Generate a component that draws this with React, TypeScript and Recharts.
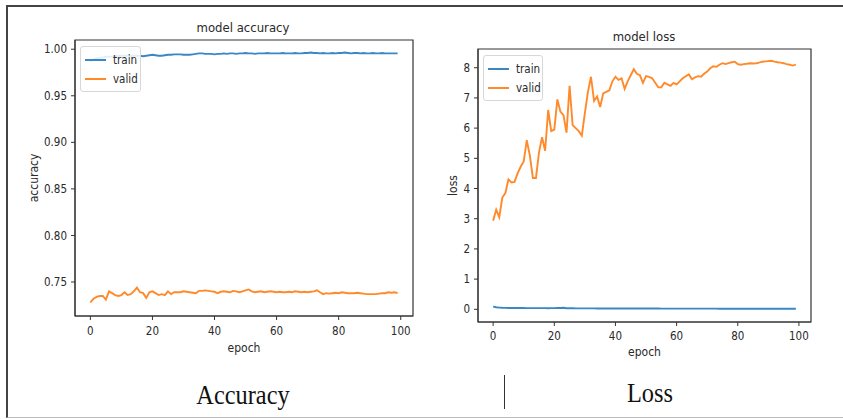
import React from 'react';
import {
  LineChart,
  Line,
  XAxis,
  YAxis,
  Legend,
  ReferenceArea
} from 'recharts';

// epochs 0..99
const epochs = Array.from({ length: 100 }, (_, i) => i);

const accTrain = [
  0.987, 0.989, 0.990, 0.991, 0.991, 0.992, 0.992, 0.992, 0.9925, 0.993,
  0.993, 0.993, 0.993, 0.9925, 0.993, 0.993, 0.993, 0.9925, 0.993, 0.9935,
  0.994, 0.9935, 0.993, 0.993, 0.9935, 0.994, 0.994, 0.9945, 0.9945, 0.9945,
  0.994, 0.994, 0.994, 0.9945, 0.995, 0.9955, 0.9955, 0.995, 0.995, 0.995,
  0.9945, 0.995, 0.995, 0.9955, 0.995, 0.9955, 0.9955, 0.995, 0.9955, 0.9955,
  0.996, 0.9955, 0.9955, 0.995, 0.9955, 0.9955, 0.9955, 0.996, 0.9955, 0.9955,
  0.9955, 0.9955, 0.996, 0.9955, 0.9955, 0.9955, 0.996, 0.9955, 0.9955, 0.996,
  0.996, 0.9965, 0.996, 0.996, 0.9955, 0.996, 0.9955, 0.9955, 0.996, 0.9955,
  0.996, 0.996, 0.9965, 0.996, 0.9955, 0.996, 0.996, 0.9955, 0.996, 0.9955,
  0.9955, 0.996, 0.9955, 0.9955, 0.996, 0.9955, 0.9955, 0.9955, 0.9955, 0.9955
];

const accValid = [
  0.728, 0.732, 0.734, 0.735, 0.735, 0.731, 0.740, 0.738, 0.736, 0.735,
  0.736, 0.739, 0.736, 0.737, 0.740, 0.744, 0.739, 0.738, 0.733, 0.739,
  0.740, 0.738, 0.736, 0.737, 0.736, 0.740, 0.737, 0.739, 0.739, 0.739,
  0.740, 0.7395, 0.739, 0.7385, 0.738, 0.7405, 0.7405, 0.741, 0.7405, 0.740,
  0.7395, 0.738, 0.7395, 0.740, 0.7395, 0.739, 0.7405, 0.740, 0.739, 0.740,
  0.741, 0.742, 0.740, 0.739, 0.7395, 0.740, 0.739, 0.7395, 0.740, 0.7395,
  0.739, 0.7395, 0.739, 0.739, 0.7395, 0.739, 0.740, 0.7395, 0.739, 0.7395,
  0.739, 0.7395, 0.740, 0.741, 0.739, 0.737, 0.738, 0.7375, 0.738, 0.7385,
  0.738, 0.739, 0.7385, 0.738, 0.738, 0.738, 0.7385, 0.738, 0.7375, 0.737,
  0.737, 0.737, 0.737, 0.7375, 0.738, 0.738, 0.739, 0.7385, 0.739, 0.738
];

const lossTrain = [
  0.09, 0.07, 0.055, 0.05, 0.048, 0.046, 0.045, 0.044, 0.043, 0.042,
  0.042, 0.041, 0.04, 0.04, 0.039, 0.039, 0.038, 0.038, 0.037, 0.038,
  0.04, 0.042, 0.045, 0.05, 0.036, 0.034, 0.033, 0.032, 0.032, 0.031,
  0.031, 0.03, 0.03, 0.03, 0.029, 0.029, 0.029, 0.028, 0.028, 0.028,
  0.028, 0.027, 0.027, 0.027, 0.027, 0.026, 0.026, 0.026, 0.026, 0.026,
  0.025, 0.025, 0.025, 0.025, 0.025, 0.024, 0.024, 0.024, 0.024, 0.024,
  0.024, 0.023, 0.023, 0.023, 0.023, 0.023, 0.023, 0.022, 0.022, 0.022,
  0.022, 0.022, 0.022, 0.022, 0.021, 0.021, 0.021, 0.021, 0.021, 0.021,
  0.021, 0.021, 0.02, 0.02, 0.02, 0.02, 0.02, 0.02, 0.02, 0.02,
  0.02, 0.02, 0.02, 0.019, 0.019, 0.019, 0.019, 0.019, 0.019, 0.019
];

const lossValid = [
  2.93, 3.3, 3.05, 3.7, 3.85, 4.3, 4.2, 4.22, 4.5, 4.72,
  4.9, 5.6, 5.1, 4.35, 4.35, 5.2, 5.7, 5.25, 6.6, 5.9,
  5.95, 6.95, 6.55, 6.43, 5.85, 7.4, 6.1, 6.0, 5.9, 5.75,
  6.5, 7.2, 7.7, 6.9, 7.05, 6.7, 7.15, 7.2, 7.25, 7.55,
  7.7, 7.6, 7.65, 7.3, 7.55, 7.75, 7.95, 7.8, 7.75, 7.5,
  7.72, 7.7, 7.65, 7.5, 7.35, 7.35, 7.5, 7.45, 7.4, 7.5,
  7.45, 7.55, 7.65, 7.72, 7.78, 7.62, 7.68, 7.72, 7.7, 7.8,
  7.87, 7.98, 8.05, 8.03, 8.1, 8.15, 8.12, 8.15, 8.18, 8.2,
  8.12, 8.1, 8.12, 8.13, 8.15, 8.14, 8.15, 8.17, 8.2, 8.21,
  8.22, 8.23, 8.2, 8.18, 8.17, 8.15, 8.12, 8.1, 8.07, 8.1
];

const epochTicks = [0, 20, 40, 60, 80, 100];
const accTicks = [0.75, 0.8, 0.85, 0.9, 0.95, 1.0];
const lossTicks = [0, 1, 2, 3, 4, 5, 6, 7, 8];

const accData = epochs.map((e, i) => ({ epoch: e, train: accTrain[i], valid: accValid[i] }));
const lossData = epochs.map((e, i) => ({ epoch: e, train: lossTrain[i], valid: lossValid[i] }));

const TRAIN = '#3a87c6';
const VALID = '#ff8a2b';
const FONT = "'DejaVu Sans Condensed', 'DejaVu Sans', sans-serif";
const AXIS = '#333';
const TEXT = '#2a2a2a';
const X_DOMAIN: [number, number] = [-4.95, 103.95];

const tickStyle = { fontSize: 11.5, fill: TEXT, fontFamily: FONT };

function MplLegend({ payload }: any) {
  return (
    <div
      style={{
        border: '1px solid #d8d8d8',
        borderRadius: 3,
        background: 'rgba(255,255,255,0.85)',
        padding: '3px 0',
        fontFamily: FONT,
        fontSize: 11.5,
        color: TEXT
      }}
    >
      {(payload || []).map((p: any) => (
        <div key={p.value} style={{ display: 'flex', alignItems: 'center', height: 19 }}>
          <span style={{ display: 'inline-block', width: 21, height: 2, background: p.color, marginLeft: 4, marginRight: 7 }} />
          <span>{p.value}</span>
        </div>
      ))}
    </div>
  );
}

function yLabel(text: string, dx: number) {
  return (props: any) => {
    const vb = props.viewBox || {};
    const x = vb.x + dx;
    const y = vb.y + vb.height / 2;
    return (
      <text
        x={x}
        y={y}
        transform={`rotate(-90, ${x}, ${y})`}
        textAnchor="middle"
        dominantBaseline="central"
        fontSize={12}
        fontFamily={FONT}
        fill={TEXT}
      >
        {text}
      </text>
    );
  };
}

const title = (left: number, top: number, text: string) => (
  <div
    style={{
      position: 'absolute',
      left: left - 100,
      top: top - 8,
      width: 200,
      textAlign: 'center',
      fontFamily: FONT,
      fontSize: 13,
      color: TEXT,
      lineHeight: '16px'
    }}
  >
    {text}
  </div>
);

const caption = (cx: number, cy: number, text: string) => (
  <div
    style={{
      position: 'absolute',
      left: cx - 100,
      top: cy - 17,
      width: 200,
      textAlign: 'center',
      fontFamily: "'Liberation Serif', 'Times New Roman', serif",
      fontSize: 28,
      lineHeight: '34px',
      color: '#111',
      transform: 'scaleX(0.87)'
    }}
  >
    {text}
  </div>
);

export default function App() {
  return (
    <div style={{ position: 'absolute', left: 0, top: 0, width: 843, height: 419, background: '#fff', overflow: 'hidden' }}>
      {/* figure frame */}
      <div style={{ position: 'absolute', left: 6, top: 5, width: 835, height: 410, borderTop: '2px solid #444', borderLeft: '2px solid #444', borderRight: '1px solid #888', borderBottom: '1px solid #bbb' }} />
      <div style={{ position: 'absolute', left: 504, top: 375, width: 1, height: 34, background: '#333' }} />

      {/* accuracy */}
      <div style={{ position: 'absolute', left: 0, top: 0 }}>
        <LineChart width={430} height={360} data={accData} margin={{ top: 40, right: 17, bottom: 4, left: 20 }}>
          <XAxis
            dataKey="epoch"
            type="number"
            domain={X_DOMAIN}
            ticks={epochTicks}
            interval={0}
            tick={tickStyle}
            tickSize={4}
            tickMargin={7}
            stroke={AXIS}
            height={40}
            allowDataOverflow
            label={{ value: 'epoch', position: 'insideBottom', offset: 4, style: { fontSize: 12, fontFamily: FONT, fill: TEXT } }}
          />
          <YAxis
            type="number"
            domain={[0.7135, 1.0099]}
            ticks={accTicks}
            interval={0}
            tickFormatter={(v: number) => v.toFixed(2)}
            tick={tickStyle}
            tickSize={4}
            tickMargin={4}
            stroke={AXIS}
            width={55}
            allowDataOverflow
            label={yLabel('accuracy', 14)}
          />
          <ReferenceArea x1={X_DOMAIN[0]} x2={X_DOMAIN[1]} y1={0.7135} y2={1.0099} fill="none" stroke={AXIS} strokeWidth={1.2} ifOverflow="visible" />
          <Legend
            layout="vertical"
            align="center"
            verticalAlign="middle"
            content={<MplLegend />}
            wrapperStyle={{ left: 80, top: 46, width: 61 }}
          />
          <Line name="train" type="linear" dataKey="train" stroke={TRAIN} strokeWidth={1.9} dot={false} isAnimationActive={false} />
          <Line name="valid" type="linear" dataKey="valid" stroke={VALID} strokeWidth={1.9} dot={false} isAnimationActive={false} />
        </LineChart>
      </div>
      {title(243, 28, 'model accuracy')}
      {caption(243, 395, 'Accuracy')}

      {/* loss */}
      <div style={{ position: 'absolute', left: 430, top: 0 }}>
        <LineChart width={413} height={365} data={lossData} margin={{ top: 49, right: 32, bottom: 3, left: 8 }}>
          <XAxis
            dataKey="epoch"
            type="number"
            domain={X_DOMAIN}
            ticks={epochTicks}
            interval={0}
            tick={tickStyle}
            tickSize={4}
            tickMargin={6}
            stroke={AXIS}
            height={40}
            allowDataOverflow
            label={{ value: 'epoch', position: 'insideBottom', offset: 6, style: { fontSize: 12, fontFamily: FONT, fill: TEXT } }}
          />
          <YAxis
            type="number"
            domain={[-0.42, 8.62]}
            ticks={lossTicks}
            interval={0}
            tick={tickStyle}
            tickSize={4}
            tickMargin={4}
            stroke={AXIS}
            width={40}
            allowDataOverflow
            label={yLabel('loss', 15)}
          />
          <ReferenceArea x1={X_DOMAIN[0]} x2={X_DOMAIN[1]} y1={-0.42} y2={8.62} fill="none" stroke={AXIS} strokeWidth={1.2} ifOverflow="visible" />
          <Legend
            layout="vertical"
            align="center"
            verticalAlign="middle"
            content={<MplLegend />}
            wrapperStyle={{ left: 53, top: 55, width: 60 }}
          />
          <Line name="train" type="linear" dataKey="train" stroke={TRAIN} strokeWidth={1.9} dot={false} isAnimationActive={false} />
          <Line name="valid" type="linear" dataKey="valid" stroke={VALID} strokeWidth={1.9} dot={false} isAnimationActive={false} />
        </LineChart>
      </div>
      {title(644, 37, 'model loss')}
      {caption(650, 393, 'Loss')}
    </div>
  );
}
